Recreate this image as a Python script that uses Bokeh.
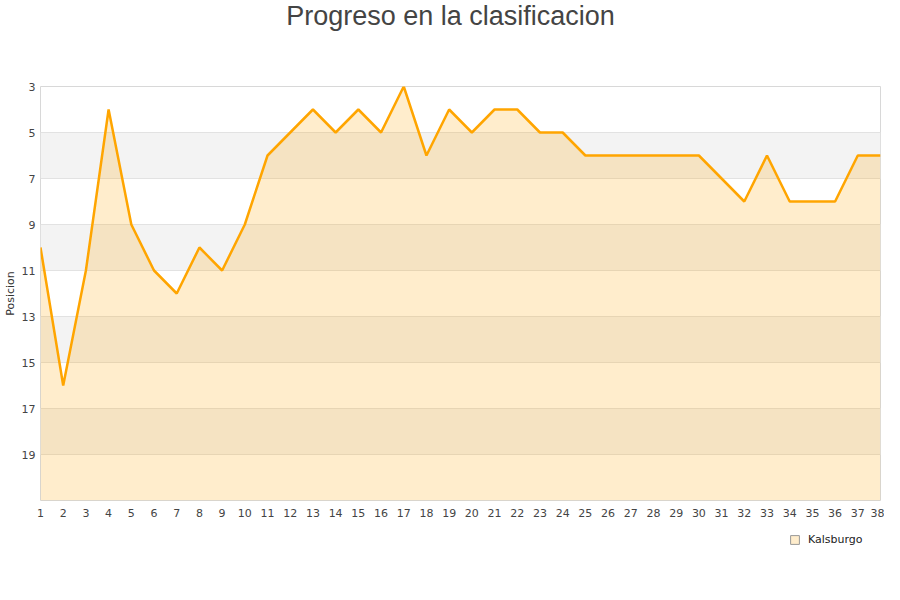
from bokeh.plotting import figure
from bokeh.layouts import column
from bokeh.models import Range1d, FixedTicker, ColumnDataSource, Legend, LegendItem, Label
from bokeh.embed import file_html
from bokeh.resources import INLINE

jornadas = list(range(1, 39))
posicion = [10, 16, 11, 4, 9, 11, 12, 10, 11, 9,
            6, 5, 4, 5, 4, 5, 3, 6, 4, 5,
            4, 4, 5, 5, 6, 6, 6, 6, 6, 6,
            7, 8, 6, 8, 8, 8, 6, 6]
y_ticks = [3, 5, 7, 9, 11, 13, 15, 17, 19]
equipo = "Kalsburgo"
titulo = "Progreso en la clasificacion"
max_pos = 21

FONT = "DejaVu Sans"
TFONT = "Liberation Sans"

src = ColumnDataSource(dict(x=jornadas, y=posicion, base=[max_pos] * len(jornadas)))

# title strip
tf = figure(width=884, height=34, output_backend="svg", toolbar_location=None,
            x_axis_type=None, y_axis_type=None, min_border=0,
            x_range=Range1d(0, 1), y_range=Range1d(0, 1))
tf.outline_line_color = None
tf.grid.grid_line_color = None
tf.add_layout(Label(x=410, y=19, x_units="screen", y_units="screen", text=titulo,
                    text_font=TFONT, text_font_size="27px", text_color="#444444",
                    text_align="center", text_baseline="middle"))

p = figure(width=884, height=486, output_backend="svg", toolbar_location=None,
           x_range=Range1d(1, 38), y_range=Range1d(max_pos, 3),
           min_border_left=32, min_border_right=4, min_border_bottom=20, min_border_top=52)

p.outline_line_color = "#d8d8d8"
p.outline_line_width = 1

p.xgrid.grid_line_color = None
p.ygrid.grid_line_color = "#e2e2e2"
p.ygrid.band_fill_color = "#f3f3f3"
p.ygrid.band_fill_alpha = 1.0

p.xaxis.ticker = FixedTicker(ticks=jornadas)
p.yaxis.ticker = FixedTicker(ticks=y_ticks)
for ax in (p.xaxis[0], p.yaxis[0]):
    ax.axis_line_color = None
    ax.major_tick_line_color = None
    ax.minor_tick_line_color = None
    ax.major_tick_out = 0
    ax.major_tick_in = 0
    ax.major_label_text_font = FONT
    ax.major_label_text_font_size = "11px"
    ax.major_label_text_color = "#444444"
p.xaxis.major_label_standoff = 8
p.yaxis.major_label_standoff = 5
p.yaxis.axis_label = "Posicion"
p.yaxis.axis_label_text_font = FONT
p.yaxis.axis_label_text_font_size = "11px"
p.yaxis.axis_label_text_font_style = "normal"
p.yaxis.axis_label_text_color = "#333333"
p.yaxis.axis_label_standoff = 2

p.varea(x="x", y1="y", y2="base", source=src, fill_color="#ffa500", fill_alpha=0.2)
p.line(x="x", y="y", source=src, line_color="#ffa500", line_width=2.5)

# legend strip below the chart (its series marks lie outside its visible range)
lf = figure(width=884, height=40, output_backend="svg", toolbar_location=None,
            x_axis_type=None, y_axis_type=None, min_border=0,
            x_range=Range1d(100, 101), y_range=Range1d(100, 101))
lf.outline_line_color = None
lf.grid.grid_line_color = None
swatch = lf.quad(left="x", right="x", top="y", bottom="y", source=src,
                 fill_color="#ffedcc", line_color="#999999")
legend = Legend(items=[LegendItem(label=equipo, renderers=[swatch])],
                location=(749, 14), orientation="horizontal",
                border_line_color=None, background_fill_alpha=0,
                glyph_width=11, glyph_height=11, label_height=12, label_standoff=8,
                label_text_font=FONT, label_text_font_size="11px",
                label_text_color="#222222", margin=0, padding=2, spacing=6)
lf.add_layout(legend, "center")

layout = column(tf, p, lf, spacing=0)
open("out.html", "w").write(file_html(layout, INLINE))
